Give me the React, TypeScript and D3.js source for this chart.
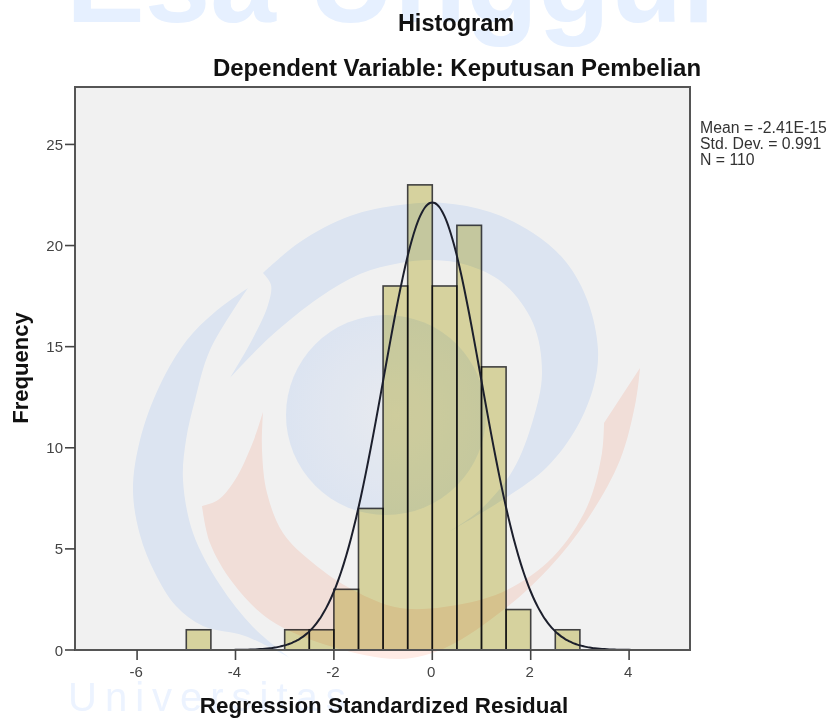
import React from "react";
import * as d3 from "d3";

const binStarts = [-5, -3, -2.5, -2, -1.5, -1, -0.5, 0, 0.5, 1, 1.5, 2.5];
const binCounts = [1, 1, 1, 3, 7, 18, 23, 18, 21, 14, 2, 1];
const binWidth = 0.5;
const xTickValues = [-6, -4, -2, 0, 2, 4];
const yTickValues = [0, 5, 10, 15, 20, 25];
const statLines = ["Mean = -2.41E-15", "Std. Dev. = 0.991", "N = 110"];
const meanValue = 0;
const sdValue = 0.991;
const nValue = 110;

const W = 832, H = 720;
const plot = { left: 75, right: 690, top: 87, bottom: 650 };
const x = d3.scaleLinear().domain([-7.262, 5.238]).range([plot.left, plot.right]);
const y = d3.scaleLinear().domain([0, 27.84]).range([plot.bottom, plot.top]);

const density = (v: number) =>
  (nValue * binWidth * Math.exp(-0.5 * ((v - meanValue) / sdValue) ** 2)) / (sdValue * Math.sqrt(2 * Math.PI));
const curveXs = d3.range(-4.3, 4.45, 0.05);
const curvePath = d3.line<number>().x((v) => x(v)).y((v) => y(density(v))).curve(d3.curveBasis)(curveXs) || "";

type Pt = [number, number];
const smooth = d3.line().curve(d3.curveCatmullRom.alpha(0.5));
// each watermark shape is a list of smooth edges meeting at sharp corners
const shape = (edges: Pt[][]) =>
  edges.map((e, i) => { const d = smooth(e) || ""; return i === 0 ? d : "L" + d.slice(1); }).join("") + "Z";

const blueArc: Pt[][] = [
  [[230, 378], [252, 340], [268, 305], [271, 285], [263, 273]],
  [[263, 273], [300, 242], [350, 216], [400, 205], [443, 203], [490, 212], [533, 233], [566, 262], [588, 302], [598, 350], [594, 385], [577, 427], [547, 467], [507, 497], [447, 533]],
  [[447, 533], [480, 510], [513, 470], [533, 420], [542, 373], [533, 323], [503, 283], [467, 265], [433, 260], [400, 263], [360, 274], [320, 297], [270, 337], [230, 378]],
];
const blueCrescent: Pt[][] = [
  [[248, 288], [215, 312], [187, 340], [160, 385], [140, 440], [133, 490], [140, 535], [155, 573], [176, 606], [203, 626], [245, 636], [290, 658]],
  [[290, 658], [253, 627], [220, 585], [193, 533], [183, 480], [186, 440], [195, 400], [210, 350], [248, 288]],
];
const salmonArc: Pt[][] = [
  [[263, 412], [253, 442], [235, 480], [218, 500], [202, 506]],
  [[202, 506], [210, 543], [233, 583], [270, 620], [333, 647], [400, 659], [445, 648], [507, 607], [550, 567], [587, 520], [620, 460], [636, 400], [640, 368]],
  [[640, 368], [604, 423]],
  [[604, 423], [602, 453], [587, 507], [553, 557], [507, 590], [457, 605], [400, 608], [353, 590], [313, 563], [283, 533], [267, 493], [262, 450], [263, 412]],
];

export default function App() {
  return (
    <svg width={W} height={H} viewBox={`0 0 ${W} ${H}`} style={{ position: "absolute", left: 0, top: 0, display: "block", isolation: "isolate", filter: "blur(0.45px)" }} fontFamily="'Liberation Sans', Arial, sans-serif">
      <defs>
        <radialGradient id="core" cx="0.55" cy="0.5" r="0.55">
          <stop offset="0" stopColor="#f6f8fd" />
          <stop offset="1" stopColor="#e9f2ff" />
        </radialGradient>
      </defs>
      <rect width={W} height={H} fill="#fff" />
      <text x={66} y={22} fontSize={118} fontWeight="bold" fill="#e6f0ff">Esa Unggul</text>
      <text x={68} y={711} fontSize={40} letterSpacing={8} fill="#ecf3ff">Universitas</text>
      <path d={shape(blueArc)} fill="#e9f2ff" />
      <path d={shape(blueCrescent)} fill="#e9f2ff" />
      <circle cx={386} cy={415} r={100} fill="url(#core)" />
      <path d={shape(salmonArc)} fill="#ffebe5" />

      <rect x={plot.left} y={plot.top} width={plot.right - plot.left} height={plot.bottom - plot.top} fill="#f1f1f1" style={{ mixBlendMode: "multiply" }} />

      {binStarts.map((s, i) => (
        <rect
          key={s}
          x={x(s)}
          y={y(binCounts[i])}
          width={x(s + binWidth) - x(s)}
          height={y(0) - y(binCounts[i])}
          fill="#e3dfa7"
          stroke="#444"
          strokeWidth={1.6}
          style={{ mixBlendMode: "multiply" }}
        />
      ))}
      <path d={curvePath} fill="none" stroke="#1c1f2c" strokeWidth={2} />

      <rect x={plot.left} y={plot.top} width={plot.right - plot.left} height={plot.bottom - plot.top} fill="none" stroke="#555" strokeWidth={2} />

      {xTickValues.map((t) => (
        <g key={t}>
          <line x1={x(t)} x2={x(t)} y1={plot.bottom} y2={plot.bottom + 10} stroke="#444" strokeWidth={1.6} />
          <text x={x(t) - 1} y={677} textAnchor="middle" fontSize={15} fill="#444">{t}</text>
        </g>
      ))}
      {yTickValues.map((t) => (
        <g key={t}>
          <line x1={plot.left - 10} x2={plot.left} y1={y(t)} y2={y(t)} stroke="#444" strokeWidth={1.6} />
          <text x={plot.left - 12} y={y(t) + 5.5} textAnchor="end" fontSize={15} fill="#444">{t}</text>
        </g>
      ))}

      <text x={456} y={31} textAnchor="middle" fontSize={23.5} fontWeight="bold" fill="#111">Histogram</text>
      <text x={457} y={76} textAnchor="middle" fontSize={24} fontWeight="bold" fill="#111">Dependent Variable: Keputusan Pembelian</text>
      <text x={384} y={713} textAnchor="middle" fontSize={22.4} fontWeight="bold" fill="#111">Regression Standardized Residual</text>
      <text transform="translate(28,368) rotate(-90)" textAnchor="middle" fontSize={22} fontWeight="bold" fill="#111">Frequency</text>

      {statLines.map((s, i) => (
        <text key={s} x={700} y={133 + i * 16} fontSize={15.8} fill="#333">{s}</text>
      ))}
    </svg>
  );
}
